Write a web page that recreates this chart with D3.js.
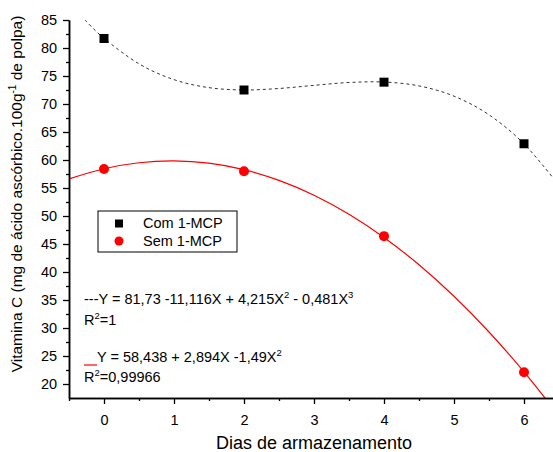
<!DOCTYPE html>
<html>
<head>
<meta charset="utf-8">
<script src="https://cdn.jsdelivr.net/npm/d3@7"></script>
<style>
  body { margin: 0; background: #fff; }
  text { font-family: "Liberation Sans", Arial, sans-serif; }
</style>
</head>
<body>
<div id="chart"></div>
<script>
// measured points
var days = [0, 2, 4, 6];
var comMCP = [81.7, 72.5, 73.9, 62.9];
var semMCP = [58.4, 58.0, 46.4, 22.1];

// fitted curves
var comFitX = [-0.27, 0, 0.5, 1, 1.5, 2, 2.5, 3, 3.5, 4, 4.5, 5, 5.5, 6, 6.5];
var comFitY = [85, 81.73, 77.17, 74.35, 72.92, 72.51, 72.77, 73.33, 73.84, 73.92, 73.23, 71.4, 68.07, 62.88, 55.47];
var semFitX = [-0.5, 0, 0.5, 1, 1.5, 2, 2.5, 3, 3.5, 4, 4.5, 5, 5.5, 6, 6.5];
var semFitY = [56.62, 58.44, 59.51, 59.84, 59.43, 58.27, 56.36, 53.71, 50.31, 46.17, 41.29, 35.66, 29.28, 22.16, 14.3];

var xTicks = [0, 1, 2, 3, 4, 5, 6];
var yTicks = [20, 25, 30, 35, 40, 45, 50, 55, 60, 65, 70, 75, 80, 85];

var svgWidth = 553;
var svgHeight = 452;

var svg = d3.select("#chart")
    .append("svg")
    .attr("width", svgWidth)
    .attr("height", svgHeight);

var x = d3.scaleLinear().domain([-0.5, 6.5]).range([69, 559]);
var y = d3.scaleLinear().domain([17.5, 85]).range([398, 20]);

svg.append("clipPath").attr("id", "plot")
    .append("rect")
    .attr("x", 69).attr("y", 20)
    .attr("width", 490).attr("height", 378);

var line = d3.line()
    .x(d => x(d[0]))
    .y(d => y(d[1]))
    .curve(d3.curveCardinal);

svg.append("path")
    .datum(d3.zip(comFitX, comFitY))
    .attr("clip-path", "url(#plot)")
    .attr("d", line)
    .attr("fill", "none")
    .attr("stroke", "#333")
    .attr("stroke-width", 1)
    .attr("stroke-dasharray", "3,3");

svg.append("path")
    .datum(d3.zip(semFitX, semFitY))
    .attr("clip-path", "url(#plot)")
    .attr("d", line)
    .attr("fill", "none")
    .attr("stroke", "red")
    .attr("stroke-width", 1.2);

// axes
var bottomAxis = d3.axisBottom(x).tickValues(xTicks).tickSize(6).tickSizeOuter(0).tickFormat(d3.format("d"));
var bottomMinor = d3.axisBottom(x).tickValues(d3.range(-0.5, 6.6, 1)).tickSize(3).tickFormat("").tickSizeOuter(0);
var leftAxis = d3.axisLeft(y).tickValues(yTicks).tickSize(6).tickSizeOuter(0);
var leftMinor = d3.axisLeft(y).tickValues(d3.range(22.5, 85, 5)).tickSize(3).tickFormat("").tickSizeOuter(0);

function styleAxis(g) {
  g.select(".domain").attr("stroke", "#000").attr("stroke-width", 1.5);
  g.selectAll(".tick line").attr("stroke", "#000").attr("stroke-width", 1.3);
  g.selectAll(".tick text").attr("font-size", 14.5).attr("fill", "#000")
    .style("font-family", "Liberation Sans, Arial, sans-serif");
}

svg.append("g").attr("transform", "translate(0,398)").call(bottomMinor).call(styleAxis);
svg.append("g").attr("transform", "translate(0,398)").call(bottomAxis).call(styleAxis)
    .selectAll(".tick text").attr("dy", "1.25em");
svg.append("g").attr("transform", "translate(69,0)").call(leftMinor).call(styleAxis);
svg.append("g").attr("transform", "translate(69,0)").call(leftAxis).call(styleAxis)
    .selectAll(".tick text").attr("dx", "-0.2em");

// markers
svg.selectAll(".sq")
    .data(d3.zip(days, comMCP))
    .enter()
    .append("rect")
    .attr("x", d => x(d[0]) - 4.5)
    .attr("y", d => y(d[1]) - 4.5)
    .attr("width", 9)
    .attr("height", 9)
    .attr("fill", "#000");

svg.selectAll(".dot")
    .data(d3.zip(days, semMCP))
    .enter()
    .append("circle")
    .attr("cx", d => x(d[0]))
    .attr("cy", d => y(d[1]))
    .attr("r", 5)
    .attr("fill", "red");

// axis titles
svg.append("text")
    .attr("x", 314).attr("y", 449)
    .attr("text-anchor", "middle")
    .attr("font-size", 18)
    .text("Dias de armazenamento");

var yl = svg.append("text")
    .attr("transform", "translate(22,194) rotate(-90)")
    .attr("text-anchor", "middle")
    .attr("font-size", 15.5);
yl.append("tspan").text("Vitamina C (mg de ácido ascórbico.100g");
yl.append("tspan").attr("dy", -6).attr("font-size", 10).text("-1");
yl.append("tspan").attr("dy", 6).text(" de polpa)");

// legend
svg.append("rect")
    .attr("x", 98).attr("y", 211)
    .attr("width", 139).attr("height", 41)
    .attr("fill", "#fff").attr("stroke", "#000").attr("stroke-width", 1);
svg.append("rect").attr("x", 115).attr("y", 219.5).attr("width", 8).attr("height", 8).attr("fill", "#000");
svg.append("circle").attr("cx", 119).attr("cy", 241).attr("r", 4.5).attr("fill", "red");
svg.append("text").attr("x", 143).attr("y", 228).attr("font-size", 14.5).text("Com 1-MCP");
svg.append("text").attr("x", 143).attr("y", 246).attr("font-size", 14.5).text("Sem 1-MCP");

// equations
function eq(xx, yy, parts) {
  var t = svg.append("text").attr("x", xx).attr("y", yy).attr("font-size", 14.5);
  parts.forEach(function (p) {
    var s = t.append("tspan").text(p[0]);
    if (p[1] === "sup") s.attr("dy", -6).attr("font-size", 9.5);
    if (p[1] === "base") s.attr("dy", 6);
  });
  return t;
}
eq(84, 304, [["---Y = 81,73 -11,116X + 4,215X"], ["2", "sup"], [" - 0,481X", "base"], ["3", "sup"]]);
eq(84, 325, [["R"], ["2", "sup"], ["=1", "base"]]);
eq(97, 362, [["Y = 58,438 + 2,894X -1,49X"], ["2", "sup"]]);
eq(84, 382, [["R"], ["2", "sup"], ["=0,99966", "base"]]);
svg.append("line")
    .attr("x1", 84).attr("x2", 97)
    .attr("y1", 365).attr("y2", 365)
    .attr("stroke", "red").attr("stroke-width", 1.2);
</script>
</body>
</html>
